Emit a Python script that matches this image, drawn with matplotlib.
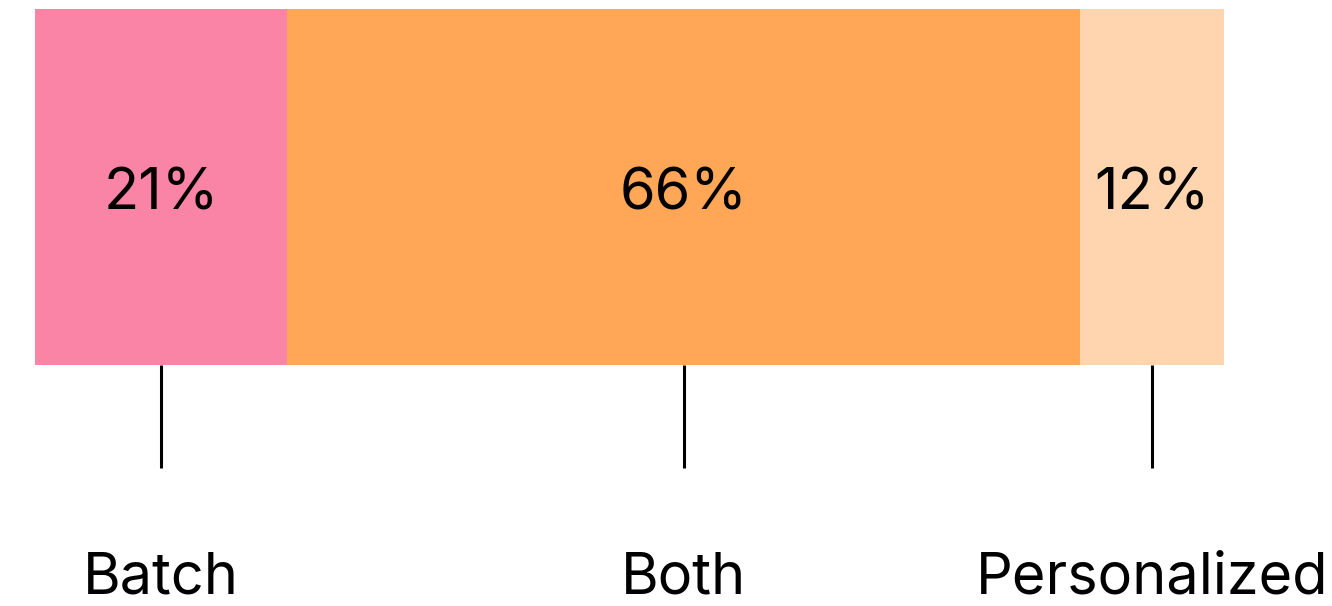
import matplotlib.pyplot as plt
import numpy as np

plt.rcParams['font.family'] = ['Inter', 'DejaVu Sans']

# 数据
categories = ['Batch', 'Both', 'Personalized']
shares = [21, 66, 12]
colors = ['#F984A6', '#FFA756', '#FFD5AF']

W, H = 1332, 606
fig = plt.figure(figsize=(W / 100, H / 100), dpi=100)
ax = fig.add_axes([0, 0, 1, 1])

# 横轴: 0 -> 35px, 99 -> 1224px
scale = (1224 - 35) / sum(shares)
ax.set_xlim(-35 / scale, sum(shares) + (W - 1224) / scale)
ax.set_ylim(H, 0)
ax.axis('off')

bar_top, bar_bottom = 9, 365
left = np.concatenate([[0], np.cumsum(shares)[:-1]])
ax.barh((bar_top + bar_bottom) / 2, shares, left=left, height=bar_bottom - bar_top,
        color=colors, linewidth=0)

for cat, s, l in zip(categories, shares, left):
    cx = l + s / 2
    ax.text(cx, 209, f'{s}%', ha='center', va='baseline', fontsize=41.5, color='black')
    ax.plot([cx, cx], [bar_bottom, 468], color='black', linewidth=2.2, solid_capstyle='butt')
    ax.text(cx, 594, cat, ha='center', va='baseline', fontsize=41.5, color='black')

fig.savefig('out.png', dpi=100)
